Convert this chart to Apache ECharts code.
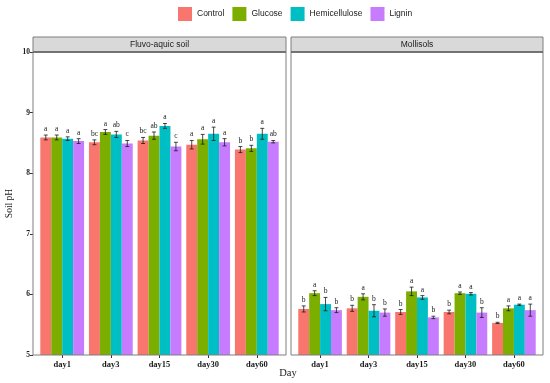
<!DOCTYPE html>
<html><head><meta charset="utf-8">
<script src="https://cdn.jsdelivr.net/npm/echarts@6/dist/echarts.min.js"></script>
<style>html,body{margin:0;padding:0;background:#fff}#c{width:550px;height:383px}</style>
</head><body><div id="c"></div>
<script>
// ---- data ----
const days = ['day1', 'day3', 'day15', 'day30', 'day60'];
const groups = ['Control', 'Glucose', 'Hemicellulose', 'Lignin'];
const yTicks = [5, 6, 7, 8, 9, 10];
const panels = ['Fluvo-aquic soil', 'Mollisols'];

// Fluvo-aquic soil means / sd / letters
const fluvoControl = [8.59, 8.51, 8.54, 8.47, 8.39];
const fluvoGlucose = [8.59, 8.68, 8.62, 8.56, 8.41];
const fluvoHemi    = [8.57, 8.64, 8.78, 8.65, 8.65];
const fluvoLignin  = [8.53, 8.49, 8.44, 8.51, 8.52];
const fluvoControlSd = [0.04, 0.04, 0.05, 0.07, 0.05];
const fluvoGlucoseSd = [0.04, 0.04, 0.06, 0.08, 0.05];
const fluvoHemiSd    = [0.03, 0.05, 0.04, 0.11, 0.09];
const fluvoLigninSd  = [0.04, 0.05, 0.07, 0.06, 0.02];
const fluvoControlLet = ['a', 'bc', 'bc', 'a', 'b'];
const fluvoGlucoseLet = ['a', 'a', 'ab', 'a', 'b'];
const fluvoHemiLet    = ['a', 'ab', 'a', 'a', 'a'];
const fluvoLigninLet  = ['a', 'c', 'c', 'a', 'ab'];

// Mollisols
const molliControl = [5.76, 5.77, 5.71, 5.71, 5.53];
const molliGlucose = [6.02, 5.96, 6.05, 6.02, 5.77];
const molliHemi    = [5.84, 5.73, 5.95, 6.01, 5.83];
const molliLignin  = [5.74, 5.70, 5.62, 5.70, 5.74];
const molliControlSd = [0.05, 0.05, 0.04, 0.03, 0.01];
const molliGlucoseSd = [0.04, 0.05, 0.07, 0.02, 0.04];
const molliHemiSd    = [0.11, 0.10, 0.03, 0.02, 0.01];
const molliLigninSd  = [0.04, 0.06, 0.02, 0.08, 0.10];
const molliControlLet = ['b', 'b', 'b', 'b', 'b'];
const molliGlucoseLet = ['a', 'a', 'a', 'a', 'a'];
const molliHemiLet    = ['b', 'b', 'a', 'a', 'a'];
const molliLigninLet  = ['b', 'b', 'b', 'b', 'a'];

const colors = ['#F8766D', '#7CAE00', '#00BFC4', '#C77CFF'];

// ---- layout ----
const panelX = [[33, 286], [291, 543]];
const panelTop = 52, panelBot = 355, stripTop = 37;
const serif = '"Liberation Serif", "Times New Roman", serif';
const sans = '"Liberation Sans", Arial, sans-serif';

const panelData = [
  { means: [fluvoControl, fluvoGlucose, fluvoHemi, fluvoLignin],
    sds: [fluvoControlSd, fluvoGlucoseSd, fluvoHemiSd, fluvoLigninSd],
    lets: [fluvoControlLet, fluvoGlucoseLet, fluvoHemiLet, fluvoLigninLet] },
  { means: [molliControl, molliGlucose, molliHemi, molliLignin],
    sds: [molliControlSd, molliGlucoseSd, molliHemiSd, molliLigninSd],
    lets: [molliControlLet, molliGlucoseLet, molliHemiLet, molliLigninLet] }
];

const grids = [], xAxes = [], yAxes = [], series = [], graphics = [];
panelX.forEach((px, p) => {
  const w = px[1] - px[0];
  const unit = w / 5.2;
  const inset = unit * 0.1;
  grids.push({ left: px[0] + inset, width: w - 2 * inset, top: panelTop, height: panelBot - panelTop });
  xAxes.push({
    type: 'category', gridIndex: p, data: days,
    axisLine: { show: false },
    axisTick: { show: true, alignWithLabel: true, length: 3, lineStyle: { color: '#333', width: 1 } },
    axisLabel: { fontFamily: serif, fontWeight: 'bold', fontSize: 8.5, color: '#1a1a1a', margin: 5 }
  });
  yAxes.push({
    type: 'value', gridIndex: p, min: 5, max: 10, interval: 1, offset: inset,
    splitLine: { show: false },
    axisLine: { show: false },
    axisTick: { show: p === 0, length: 3, lineStyle: { color: '#333', width: 1 } },
    axisLabel: { show: p === 0, fontFamily: serif, fontWeight: 'bold', fontSize: 7.5, color: '#1a1a1a', margin: 3 },
    name: p === 0 ? 'Soil pH' : '', nameLocation: 'middle', nameGap: 19, nameRotate: 90,
    nameTextStyle: { fontFamily: serif, fontSize: 9.5, color: '#1a1a1a' }
  });
  const d = panelData[p];
  groups.forEach((g, gi) => {
    series.push({
      type: 'bar', name: g, xAxisIndex: p, yAxisIndex: p,
      data: d.means[gi], barGap: '0%', barCategoryGap: '10%',
      itemStyle: { color: colors[gi] }, z: 2
    });
  });
  const errData = [], errLetters = [];
  groups.forEach((g, gi) => {
    days.forEach((day, ci) => {
      errData.push([ci, gi, d.means[gi][ci], d.sds[gi][ci]]);
      errLetters.push(d.lets[gi][ci]);
    });
  });
  series.push({
    type: 'custom', xAxisIndex: p, yAxisIndex: p, data: errData, z: 5, clip: false,
    silent: true,
    renderItem: function (params, api) {
      const ci = api.value(0), gi = api.value(1), m = api.value(2), sd = api.value(3);
      const c = api.coord([ci, m]);
      const band = api.size([1, 0])[0];
      const bw = band * 0.9 / 4;
      const x = c[0] + (gi - 1.5) * bw;
      const yt = api.coord([ci, m + sd])[1];
      const yb = api.coord([ci, m - sd])[1];
      const cap = bw * 0.18;
      const st = { stroke: '#1a1a1a', lineWidth: 0.8 };
      return {
        type: 'group', children: [
          { type: 'line', shape: { x1: x, y1: yt, x2: x, y2: yb }, style: st },
          { type: 'line', shape: { x1: x - cap, y1: yt, x2: x + cap, y2: yt }, style: st },
          { type: 'line', shape: { x1: x - cap, y1: yb, x2: x + cap, y2: yb }, style: st },
          { type: 'text', style: { text: errLetters[params.dataIndex], x: x, y: yt - 2,
              textAlign: 'center', textVerticalAlign: 'bottom',
              font: '7.5px ' + serif, fill: '#1a1a1a' } }
        ]
      };
    }
  });
  // panel frame and strip
  graphics.push({ type: 'rect', shape: { x: px[0], y: stripTop, width: w, height: panelTop - stripTop },
    style: { fill: '#D9D9D9', stroke: '#7f7f7f', lineWidth: 1 }, z: 10 });
  graphics.push({ type: 'line', shape: { x1: px[0], y1: panelTop, x2: px[1], y2: panelTop },
    style: { stroke: '#666', lineWidth: 1.5 }, z: 11 });
  graphics.push({ type: 'text', style: { text: panels[p], x: (px[0] + px[1]) / 2, y: (stripTop + panelTop) / 2,
    textAlign: 'center', textVerticalAlign: 'middle', font: '8.5px ' + sans, fill: '#1a1a1a' }, z: 12 });
  graphics.push({ type: 'rect', shape: { x: px[0], y: panelTop, width: w, height: panelBot - panelTop },
    style: { fill: 'none', stroke: '#7f7f7f', lineWidth: 1 }, z: 10 });
});
graphics.push({ type: 'text', style: { text: 'Day', x: 288, y: 373, textAlign: 'center', textVerticalAlign: 'middle',
  font: '10.5px ' + serif, fill: '#1a1a1a' }, z: 12 });

const chart = echarts.init(document.getElementById('c'), null, { renderer: 'canvas' });
chart.setOption({
  animation: false,
  backgroundColor: '#fff',
  color: colors,
  legend: {
    data: groups, top: 7, left: 178, padding: 0, itemWidth: 14, itemHeight: 14, itemGap: 8, icon: 'rect',
    textStyle: { fontFamily: sans, fontSize: 8.5, color: '#1a1a1a' }
  },
  grid: grids, xAxis: xAxes, yAxis: yAxes, series: series,
  graphic: graphics
});
</script></body></html>
